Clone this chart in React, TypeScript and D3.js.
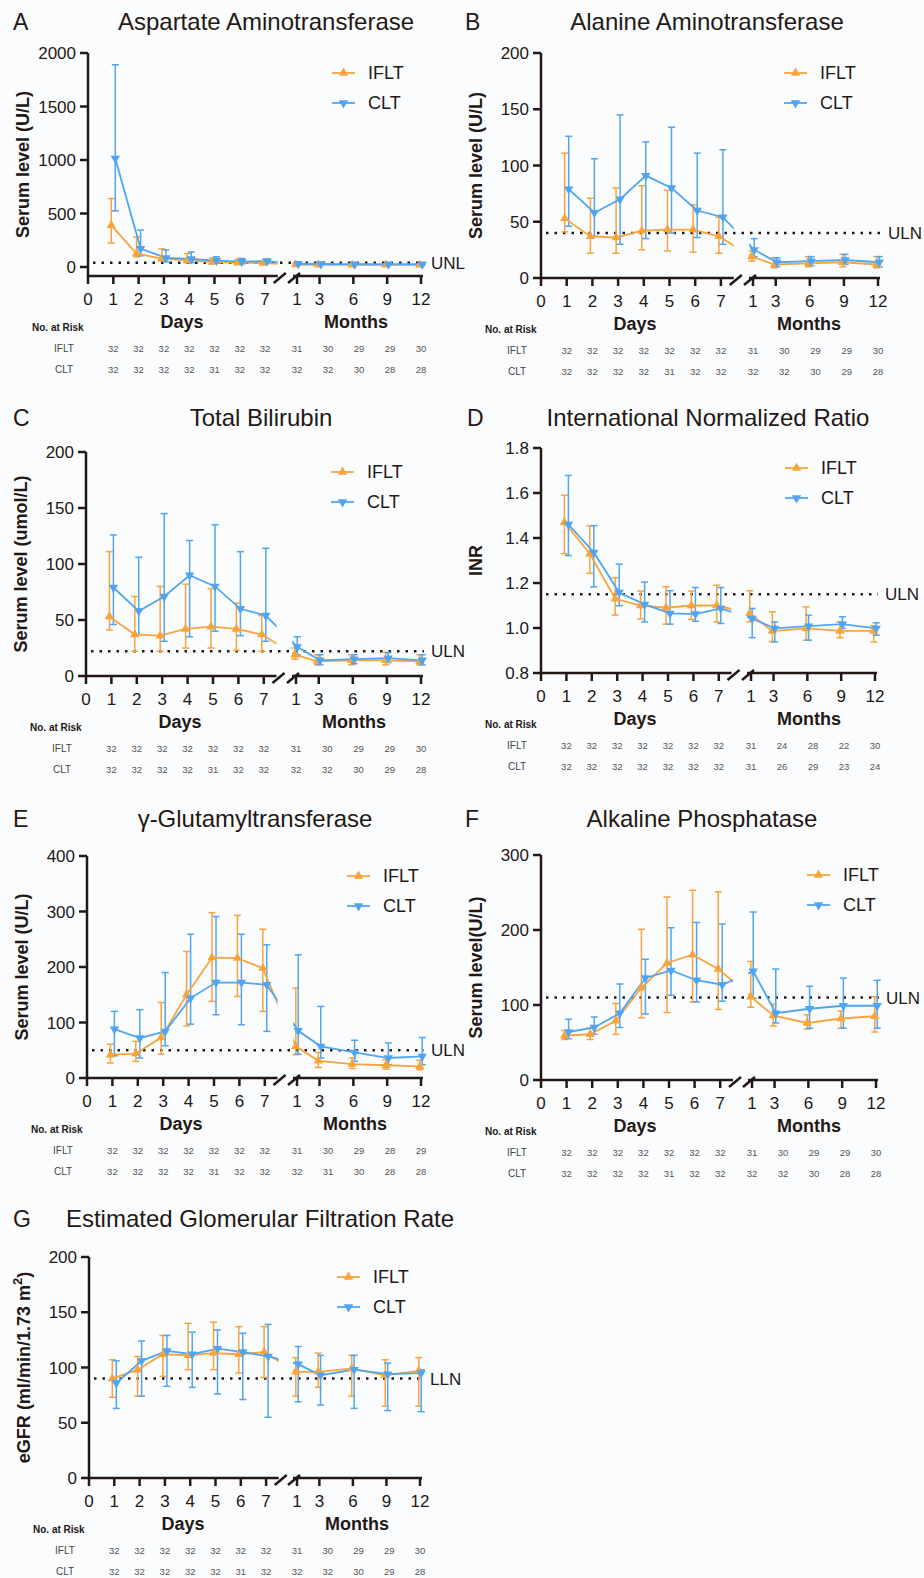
import React from "react";
import * as d3 from "d3";

const DAYS = [1, 2, 3, 4, 5, 6, 7];
const MONTHS = [1, 3, 6, 9, 12];
const DAY_TICKS = [0, 1, 2, 3, 4, 5, 6, 7];

// A - Aspartate Aminotransferase (mean, upper, lower)
const astIflt = [390, 125, 78, 62, 47, 40, 37, 22, 20, 20, 20, 20];
const astIfltHi = [640, 280, 170, 125, 85, 70, 55, 32, 30, 30, 30, 30];
const astIfltLo = [225, 95, 55, 40, 30, 28, 25, 15, 14, 14, 14, 14];
const astClt = [1015, 172, 85, 75, 60, 50, 55, 30, 28, 26, 26, 26];
const astCltHi = [1890, 345, 160, 140, 95, 80, 75, 40, 38, 36, 36, 36];
const astCltLo = [525, 105, 50, 40, 35, 30, 35, 20, 20, 18, 18, 18];

// B - Alanine Aminotransferase
const altIflt = [53, 37, 36, 42, 43, 43, 37, 19, 12, 13, 14, 12];
const altIfltHi = [111, 71, 80, 82, 78, 65, 54, 24, 18, 19, 21, 19];
const altIfltLo = [41, 22, 22, 25, 24, 23, 22, 15, 9, 10, 10, 9];
const altClt = [79, 58, 70, 91, 80, 60, 54, 25, 14, 15, 16, 14];
const altCltHi = [126, 106, 145, 121, 134, 111, 114, 35, 18, 19, 21, 19];
const altCltLo = [46, 37, 30, 35, 40, 36, 30, 19, 10, 11, 12, 10];

// C - Total Bilirubin
const tbIflt = [53, 37, 36, 42, 44, 42, 37, 19, 13, 14, 14, 13];
const tbIfltHi = [111, 71, 80, 82, 78, 65, 54, 25, 19, 19, 21, 19];
const tbIfltLo = [41, 22, 22, 25, 25, 23, 22, 15, 10, 10, 10, 10];
const tbClt = [79, 58, 71, 90, 80, 60, 54, 26, 14, 15, 16, 14];
const tbCltHi = [126, 106, 145, 121, 135, 111, 114, 35, 19, 19, 21, 19];
const tbCltLo = [46, 37, 31, 35, 40, 36, 31, 19, 10, 11, 12, 10];

// D - International Normalized Ratio
const inrIflt = [1.47, 1.33, 1.13, 1.1, 1.09, 1.1, 1.1, 1.065, 0.986, 0.998, 0.987, 0.987];
const inrIfltHi = [1.59, 1.454, 1.223, 1.164, 1.183, 1.164, 1.19, 1.166, 1.072, 1.094, 1.027, 1.01];
const inrIfltLo = [1.33, 1.243, 1.057, 1.04, 1.017, 1.038, 1.027, 1.027, 0.94, 0.946, 0.957, 0.938];
const inrClt = [1.46, 1.336, 1.158, 1.105, 1.065, 1.062, 1.087, 1.042, 0.998, 1.008, 1.017, 0.998];
const inrCltHi = [1.678, 1.455, 1.284, 1.204, 1.166, 1.18, 1.18, 1.087, 1.027, 1.057, 1.05, 1.023];
const inrCltLo = [1.322, 1.183, 1.099, 1.027, 1.017, 1.03, 1.02, 0.957, 0.938, 0.946, 0.998, 0.968];

// E - gamma-Glutamyltransferase
const ggtIflt = [42, 44, 73, 150, 217, 216, 198, 57, 31, 25, 23, 21];
const ggtIfltHi = [61, 66, 136, 228, 298, 293, 268, 162, 46, 36, 33, 32];
const ggtIfltLo = [27, 30, 43, 94, 138, 147, 120, 42, 19, 17, 16, 15];
const ggtClt = [88, 72, 84, 144, 172, 172, 168, 85, 57, 46, 36, 39];
const ggtCltHi = [120, 123, 190, 259, 291, 259, 240, 222, 129, 68, 63, 73];
const ggtCltLo = [40, 36, 58, 97, 114, 96, 84, 43, 36, 30, 24, 24];

// F - Alkaline Phosphatase
const alpIflt = [59, 61, 79, 123, 156, 167, 148, 111, 86, 76, 82, 85];
const alpIfltHi = [66, 69, 102, 201, 244, 253, 251, 158, 101, 87, 92, 111];
const alpIfltLo = [54, 54, 61, 83, 90, 104, 94, 97, 72, 68, 69, 64];
const alpClt = [64, 70, 89, 136, 146, 133, 127, 145, 89, 95, 99, 99];
const alpCltHi = [81, 84, 128, 161, 203, 210, 208, 224, 148, 125, 136, 133];
const alpCltLo = [55, 61, 70, 88, 113, 104, 105, 109, 76, 69, 69, 69];

// G - eGFR
const gfrIflt = [90, 98, 112, 111, 113, 112, 114, 96, 96, 99, 93, 97];
const gfrIfltHi = [107, 110, 129, 140, 141, 137, 137, 109, 113, 111, 107, 109];
const gfrIfltLo = [73, 74, 92, 98, 98, 95, 91, 74, 82, 74, 65, 65];
const gfrClt = [86, 106, 115, 112, 117, 114, 110, 103, 93, 98, 94, 95];
const gfrCltHi = [106, 124, 129, 132, 134, 131, 139, 119, 111, 111, 104, 98];
const gfrCltLo = [63, 74, 83, 82, 76, 71, 55, 69, 66, 63, 61, 60];

// numbers at risk
const riskIflt = [32, 32, 32, 32, 32, 32, 32, 31, 30, 29, 29, 30];
const riskCltA = [32, 32, 32, 32, 31, 32, 32, 32, 32, 30, 28, 28];
const riskCltB = [32, 32, 32, 32, 31, 32, 32, 32, 32, 30, 29, 28];
const riskIfltD = [32, 32, 32, 32, 32, 32, 32, 31, 24, 28, 22, 30];
const riskCltD = [32, 32, 32, 32, 32, 32, 32, 31, 26, 29, 23, 24];
const riskIfltE = [32, 32, 32, 32, 32, 32, 32, 31, 30, 29, 28, 29];
const riskCltE = [32, 32, 32, 32, 31, 32, 32, 32, 31, 30, 28, 28];
const riskCltG = [32, 32, 32, 32, 32, 31, 32, 32, 32, 30, 29, 28];

const ORANGE = "#f8a43c";
const BLUE = "#4fa5f2";
const INK = "#231815";
const FONT = "Arial, 'Liberation Sans', Helvetica, sans-serif";

const panels = [
  {
    letter: "A", title: "Aspartate Aminotransferase", yLabel: "Serum level (U/L)",
    ax: 88, top: 53, bottom: 276, yDomain: [-84, 2000], yTicks: [0, 500, 1000, 1500, 2000],
    titleY: 30, letterX: 13, titleX: 266, dayW: 25.3, m1: 209, m12: 333, legendX: 332,
    ref: 40, refLabel: "UNL",
    iflt: [astIflt, astIfltHi, astIfltLo], clt: [astClt, astCltHi, astCltLo],
    risk: [riskIflt, riskCltA],
  },
  {
    letter: "B", title: "Alanine Aminotransferase", yLabel: "Serum level (U/L)",
    ax: 541, top: 53, bottom: 278, yDomain: [0, 200], yTicks: [0, 50, 100, 150, 200],
    titleY: 30, letterX: 465, titleX: 707, dayW: 25.7, m1: 212, m12: 337, legendX: 784,
    ref: 40, refLabel: "ULN",
    iflt: [altIflt, altIfltHi, altIfltLo], clt: [altClt, altCltHi, altCltLo],
    risk: [riskIflt, riskCltB],
  },
  {
    letter: "C", title: "Total Bilirubin", yLabel: "Serum level (umol/L)",
    ax: 86, top: 452, bottom: 676, yDomain: [0, 200], yTicks: [0, 50, 100, 150, 200],
    titleY: 426, letterX: 13, titleX: 261, dayW: 25.4, m1: 210, m12: 335, legendX: 331,
    ref: 22, refLabel: "ULN",
    iflt: [tbIflt, tbIfltHi, tbIfltLo], clt: [tbClt, tbCltHi, tbCltLo],
    risk: [riskIflt, riskCltB],
  },
  {
    letter: "D", title: "International Normalized Ratio", yLabel: "INR",
    ax: 541, top: 448, bottom: 673, yDomain: [0.8, 1.8], yTicks: [0.8, 1.0, 1.2, 1.4, 1.6, 1.8],
    fmt: d3.format(".1f"),
    titleY: 426, letterX: 467, titleX: 708, dayW: 25.4, m1: 210, m12: 334, legendX: 785,
    ref: 1.15, refLabel: "ULN",
    iflt: [inrIflt, inrIfltHi, inrIfltLo], clt: [inrClt, inrCltHi, inrCltLo],
    risk: [riskIfltD, riskCltD],
  },
  {
    letter: "E", title: "γ-Glutamyltransferase", yLabel: "Serum level (U/L)",
    ax: 87, top: 856, bottom: 1078, yDomain: [0, 400], yTicks: [0, 100, 200, 300, 400],
    titleY: 827, letterX: 13, titleX: 255, dayW: 25.4, m1: 210, m12: 334, legendX: 347,
    ref: 50, refLabel: "ULN",
    iflt: [ggtIflt, ggtIfltHi, ggtIfltLo], clt: [ggtClt, ggtCltHi, ggtCltLo],
    risk: [riskIfltE, riskCltE],
  },
  {
    letter: "F", title: "Alkaline Phosphatase", yLabel: "Serum level(U/L)",
    ax: 541, top: 855, bottom: 1080, yDomain: [0, 300], yTicks: [0, 100, 200, 300],
    titleY: 827, letterX: 465, titleX: 702, dayW: 25.6, m1: 211, m12: 335, legendX: 807,
    ref: 110, refLabel: "ULN",
    iflt: [alpIflt, alpIfltHi, alpIfltLo], clt: [alpClt, alpCltHi, alpCltLo],
    risk: [riskIflt, riskCltA],
  },
  {
    letter: "G", title: "Estimated Glomerular Filtration Rate", yLabel: "eGFR",
    ax: 89, top: 1257, bottom: 1478, yDomain: [0, 200], yTicks: [0, 50, 100, 150, 200],
    titleY: 1227, letterX: 13, titleX: 260, dayW: 25.3, m1: 208, m12: 331, legendX: 337,
    ref: 90, refLabel: "LLN",
    iflt: [gfrIflt, gfrIfltHi, gfrIfltLo], clt: [gfrClt, gfrCltHi, gfrCltLo],
    risk: [riskIflt, riskCltG],
  },
];

const triUp = d3.symbol(d3.symbolTriangle, 38)();

function Panel({ p }) {
  const xDay = d3.scaleLinear().domain([0, 7]).range([p.ax, p.ax + 7 * p.dayW]);
  const xMonth = d3.scaleLinear().domain([1, 12]).range([p.ax + p.m1, p.ax + p.m12]);
  const y = d3.scaleLinear().domain(p.yDomain).range([p.bottom, p.top]);
  const fmt = p.fmt || ((v) => String(v));
  const dayEnd = xDay(7.5);
  const monStart = xMonth(1) - 4;
  const monEnd = xMonth(12) + 2;
  const clipId = "clip" + p.letter;

  // x position of the i-th point, nudged per group
  const xAt = (i, off) => (i < 7 ? xDay(DAYS[i]) + off : xMonth(MONTHS[i - 7]) + off * 0.6);

  const line = (vals, off) =>
    d3.line()(vals.map((v, i) => [xAt(i, off), y(v)]));

  const series = [
    { key: "IFLT", data: p.iflt, color: ORANGE, off: -2, rot: 0 },
    { key: "CLT", data: p.clt, color: BLUE, off: 2, rot: 180 },
  ];

  const monthRiskX = d3.scaleLinear().domain([0, 4]).range([xMonth(1), xMonth(12)]);
  const riskX = (i) => (i < 7 ? xDay(DAYS[i]) : monthRiskX(i - 7));

  return (
    <g fontFamily={FONT}>
      <defs>
        <clipPath id={clipId}>
          <rect x={p.ax} y={p.top - 20} width={dayEnd - p.ax} height={p.bottom - p.top + 40} />
          <rect x={monStart} y={p.top - 20} width={monEnd - monStart + 10} height={p.bottom - p.top + 40} />
        </clipPath>
      </defs>

      {/* letter and title */}
      <text x={p.letterX} y={p.titleY} fontSize={23} fill={INK}>{p.letter}</text>
      <text x={p.titleX} y={p.titleY} fontSize={24} textAnchor="middle" fill={INK}>{p.title}</text>

      {/* y label */}
      <text
        transform={`translate(${p.ax - 65},${(p.top + p.bottom) / 2}) rotate(-90)`}
        textAnchor="middle" dy="0.36em" fontSize={18} fontWeight="bold" fill={INK}
      >
        {p.yLabel}
        {p.letter === "G" && (
          <>
            {" (ml/min/1.73 m"}
            <tspan dy={-8} fontSize={13}>2</tspan>
            <tspan dy={8}>)</tspan>
          </>
        )}
      </text>

      {/* reference line */}
      <line x1={p.ax + 5} x2={xMonth(12) + 3} y1={y(p.ref)} y2={y(p.ref)}
        stroke={INK} strokeWidth={2.5} strokeDasharray="2.5 6" />
      <text x={xMonth(12) + 10} y={y(p.ref)} dy="0.36em" fontSize={17} fill={INK}>{p.refLabel}</text>

      {/* error bars */}
      {series.map((s) => (
        <g key={s.key + "err"} stroke={s.color} strokeWidth={1.5}>
          {s.data[0].map((v, i) => {
            const x = xAt(i, s.off);
            const hi = y(s.data[1][i]);
            const lo = y(s.data[2][i]);
            return (
              <g key={i}>
                <line x1={x} x2={x} y1={hi} y2={lo} />
                <line x1={x - 3.5} x2={x + 3.5} y1={hi} y2={hi} />
                <line x1={x - 3.5} x2={x + 3.5} y1={lo} y2={lo} />
              </g>
            );
          })}
        </g>
      ))}

      {/* lines */}
      {series.map((s) => (
        <path key={s.key + "line"} d={line(s.data[0], s.off)} fill="none"
          stroke={s.color} strokeWidth={1.8} clipPath={`url(#${clipId})`} />
      ))}

      {/* markers */}
      {series.map((s) =>
        s.data[0].map((v, i) => (
          <path key={s.key + "m" + i} d={triUp} fill={s.color}
            transform={`translate(${xAt(i, s.off)},${y(v)}) rotate(${s.rot})`} />
        ))
      )}

      {/* legend */}
      {series.map((s, k) => {
        const ly = p.top + 20 + k * 30;
        return (
          <g key={s.key + "leg"}>
            <line x1={p.legendX} x2={p.legendX + 23} y1={ly} y2={ly} stroke={s.color} strokeWidth={1.8} />
            <path d={triUp} fill={s.color} transform={`translate(${p.legendX + 11.5},${ly}) rotate(${s.rot})`} />
            <text x={p.legendX + 36} y={ly} dy="0.36em" fontSize={18} fill={INK}>{s.key}</text>
          </g>
        );
      })}

      {/* y axis */}
      <g stroke={INK} strokeWidth={2.5}>
        <line x1={p.ax} x2={p.ax} y1={p.top} y2={p.bottom + 1.25} />
        {p.yTicks.map((t) => (
          <line key={t} x1={p.ax - 8} x2={p.ax} y1={y(t)} y2={y(t)} />
        ))}
      </g>
      {p.yTicks.map((t) => (
        <text key={"yl" + t} x={p.ax - 12} y={y(t)} dy="0.36em" textAnchor="end" fontSize={17} fill={INK}>
          {fmt(t)}
        </text>
      ))}

      {/* x axis, two segments with break */}
      <g stroke={INK} strokeWidth={2.5} fill="none">
        <line x1={p.ax} x2={dayEnd} y1={p.bottom} y2={p.bottom} />
        <line x1={monStart} x2={monEnd} y1={p.bottom} y2={p.bottom} />
        <line x1={dayEnd - 4} y1={p.bottom + 7} x2={dayEnd + 8} y2={p.bottom - 3} />
        <line x1={monStart - 5} y1={p.bottom + 7} x2={monStart + 7} y2={p.bottom - 3} />
        {DAY_TICKS.map((d) => (
          <line key={"dt" + d} x1={xDay(d)} x2={xDay(d)} y1={p.bottom} y2={p.bottom + 8} />
        ))}
        {MONTHS.map((m) => (
          <line key={"mt" + m} x1={xMonth(m)} x2={xMonth(m)} y1={p.bottom} y2={p.bottom + 8} />
        ))}
      </g>
      {DAY_TICKS.map((d) => (
        <text key={"dl" + d} x={xDay(d)} y={p.bottom + 29} textAnchor="middle" fontSize={17} fill={INK}>{d}</text>
      ))}
      {MONTHS.map((m) => (
        <text key={"ml" + m} x={xMonth(m)} y={p.bottom + 29} textAnchor="middle" fontSize={17} fill={INK}>{m}</text>
      ))}
      <text x={p.ax + 94} y={p.bottom + 52} textAnchor="middle" fontSize={18} fontWeight="bold" fill={INK}>Days</text>
      <text x={p.ax + 268} y={p.bottom + 52} textAnchor="middle" fontSize={18} fontWeight="bold" fill={INK}>Months</text>

      {/* numbers at risk */}
      <text x={p.ax - 56} y={p.bottom + 55} fontSize={10} fontWeight="bold" fill={INK}>No. at Risk</text>
      {["IFLT", "CLT"].map((g, k) => (
        <g key={g + "risk"}>
          <text x={p.ax - 24} y={p.bottom + 76 + k * 21} textAnchor="middle" fontSize={10} fill="#444">{g}</text>
          {p.risk[k].map((n, i) => (
            <text key={i} x={riskX(i)} y={p.bottom + 76 + k * 21} textAnchor="middle" fontSize={9.5} fill="#555">{n}</text>
          ))}
        </g>
      ))}
    </g>
  );
}

export default function App() {
  return (
    <svg width={924} height={1578} style={{ position: "absolute", left: 0, top: 0 }}>
      <rect width={924} height={1578} fill="#fbfcfe" />
      {panels.map((p) => (
        <Panel key={p.letter} p={p} />
      ))}
    </svg>
  );
}
